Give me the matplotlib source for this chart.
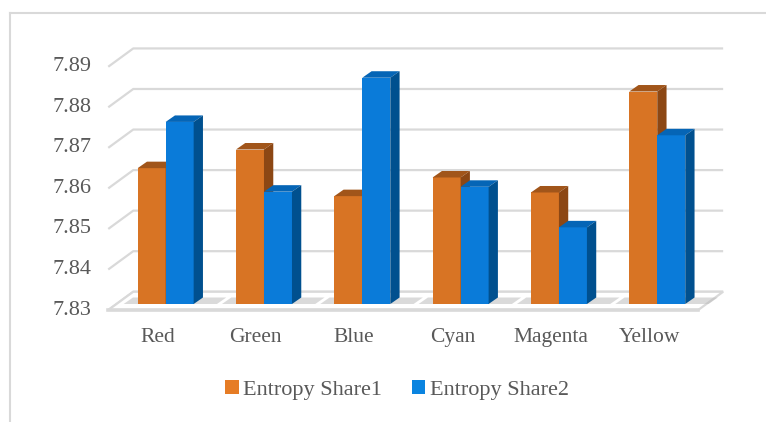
import matplotlib
matplotlib.use("Agg")
import matplotlib.pyplot as plt
from matplotlib.patches import Polygon, Patch
from matplotlib.lines import Line2D

categories = ["Red", "Green", "Blue", "Cyan", "Magenta", "Yellow"]
share1 = [7.8635, 7.8681, 7.8566, 7.8612, 7.8575, 7.8824]
share2 = [7.8749, 7.8577, 7.8858, 7.8589, 7.8489, 7.8716]
series_names = ["Entropy Share1", "Entropy Share2"]
yticks = [7.83, 7.84, 7.85, 7.86, 7.87, 7.88, 7.89]

W, H = 766, 422
fig = plt.figure(figsize=(W / 100, H / 100), dpi=100)
fig.patch.set_facecolor("white")

# axes placed so that the bars' front plane maps onto the reference
ax_l, ax_r = 116.5, 706.4      # pixel x of xlim
ax_b, ax_t = 304.0, 60.7       # pixel y (from top) of ylim
ax = fig.add_axes([ax_l / W, 1 - ax_b / H, (ax_r - ax_l) / W, (ax_b - ax_t) / H])
ax.set_xlim(-0.5, len(categories) - 0.5)
ax.set_ylim(yticks[0], yticks[-1])
ax.axis("off")

sx = (ax_r - ax_l) / (ax.get_xlim()[1] - ax.get_xlim()[0])   # px per x unit
sy = (ax_b - ax_t) / (ax.get_ylim()[1] - ax.get_ylim()[0])   # px per y unit

def px(dx, dy):
    """pixel offset (dx right, dy up) -> data offset"""
    return dx / sx, dy / sy

grid_c = "#d9d9d9"
text_c = "#595959"
font = ["Liberation Serif", "DejaVu Serif"]

# depth geometry (pixels): full wall depth and bar position in it
wall_dx, wall_dy = 25.0, 18.3
bar_d0 = 0.33          # fraction of depth where bar front faces sit
bar_ddx, bar_ddy = 9.3, 6.5

def plane(x, y, d):
    ox, oy = px((d - bar_d0) * wall_dx, (d - bar_d0) * wall_dy)
    return x + ox, y + oy

x0, x1 = ax.get_xlim()
base = yticks[0]

# back wall gridlines and side wall diagonals
for v in yticks:
    a = plane(x0, v, 0.0)
    b = plane(x0, v, 1.0)
    c = plane(x1, v, 1.0)
    ax.plot([a[0], b[0], c[0]], [a[1], b[1], c[1]], color=grid_c, lw=1.6,
            solid_capstyle="butt", clip_on=False, zorder=1)

# floor slab
fl = [plane(x0, base, 0.0), plane(x1, base, 0.0), plane(x1, base, 1.0), plane(x0, base, 1.0)]
ax.add_patch(Polygon(fl, closed=True, facecolor="white", edgecolor=grid_c, lw=1.6,
                     clip_on=False, zorder=2))
fa, fb = plane(x0, base, 0.0), plane(x1, base, 0.0)
ax.plot([fa[0], fb[0]], [fa[1], fb[1]], color=grid_c, lw=2.6, clip_on=False, zorder=2)

bw = 28.0 / sx
colors = [
    ("#D87424", "#A1551A", "#8C4714"),   # front, top, side
    ("#0A7BD9", "#0565B6", "#00508F"),
]

ddx, ddy = px(bar_ddx, bar_ddy)

# soft shadows on floor
for i in range(len(categories)):
    xl = i - bw - 14 / sx
    xr = i + bw + ddx + 14 / sx
    sh = [(xl, base), (xr, base), (xr + ddx, base + ddy), (xl + ddx, base + ddy)]
    ax.add_patch(Polygon(sh, closed=True, facecolor="#bdbdbd", edgecolor="none",
                         alpha=0.55, clip_on=False, zorder=3))

for i in range(len(categories)):
    for s, vals in enumerate([share1, share2]):
        left = i - bw + s * bw
        right = left + bw
        h = vals[i]
        fc, tc, sc = colors[s]
        ax.bar(left, h - base, width=bw, bottom=base, align="edge", color=fc,
               edgecolor="none", zorder=4 + s * 2, clip_on=False)
        top = [(left, h), (right, h), (right + ddx, h + ddy), (left + ddx, h + ddy)]
        ax.add_patch(Polygon(top, closed=True, facecolor=tc, edgecolor="none",
                             clip_on=False, zorder=4 + s * 2))
        side = [(right, base), (right + ddx, base + ddy), (right + ddx, h + ddy), (right, h)]
        ax.add_patch(Polygon(side, closed=True, facecolor=sc, edgecolor="none",
                             clip_on=False, zorder=4 + s * 2))

# y tick labels on the front plane
for v in yticks:
    lx, ly = plane(x0, v, 0.0)
    ax.text(lx - 17 / sx, ly, f"{v:.2f}", ha="right", va="center", fontsize=16,
            color=text_c, family=font, clip_on=False)

# category labels
for i, c in enumerate(categories):
    lx, ly = plane(i, base, 0.0)
    ax.text(lx, ly - 27 / sy, c, ha="center", va="center", fontsize=15.5,
            color=text_c, family=font, clip_on=False)

handles = [Patch(facecolor="#E67C25", edgecolor="none"),
           Patch(facecolor="#0A84E0", edgecolor="none")]
fig.legend(handles, series_names, loc="center", bbox_to_anchor=(397 / W, 1 - 390 / H),
           ncol=2, frameon=False, handlelength=0.6, handleheight=0.6,
           handletextpad=0.2, columnspacing=1.35,
           prop={"family": font, "size": 16}, labelcolor=text_c)

# chart border (only top and left visible)
fig.add_artist(Line2D([9.5 / W, 9.5 / W], [0, 1 - 12.5 / H], transform=fig.transFigure,
                      color=grid_c, lw=1.5))
fig.add_artist(Line2D([9.5 / W, 1], [1 - 12.5 / H, 1 - 12.5 / H], transform=fig.transFigure,
                      color=grid_c, lw=1.5))

fig.savefig("out.png", dpi=100, facecolor="white")
